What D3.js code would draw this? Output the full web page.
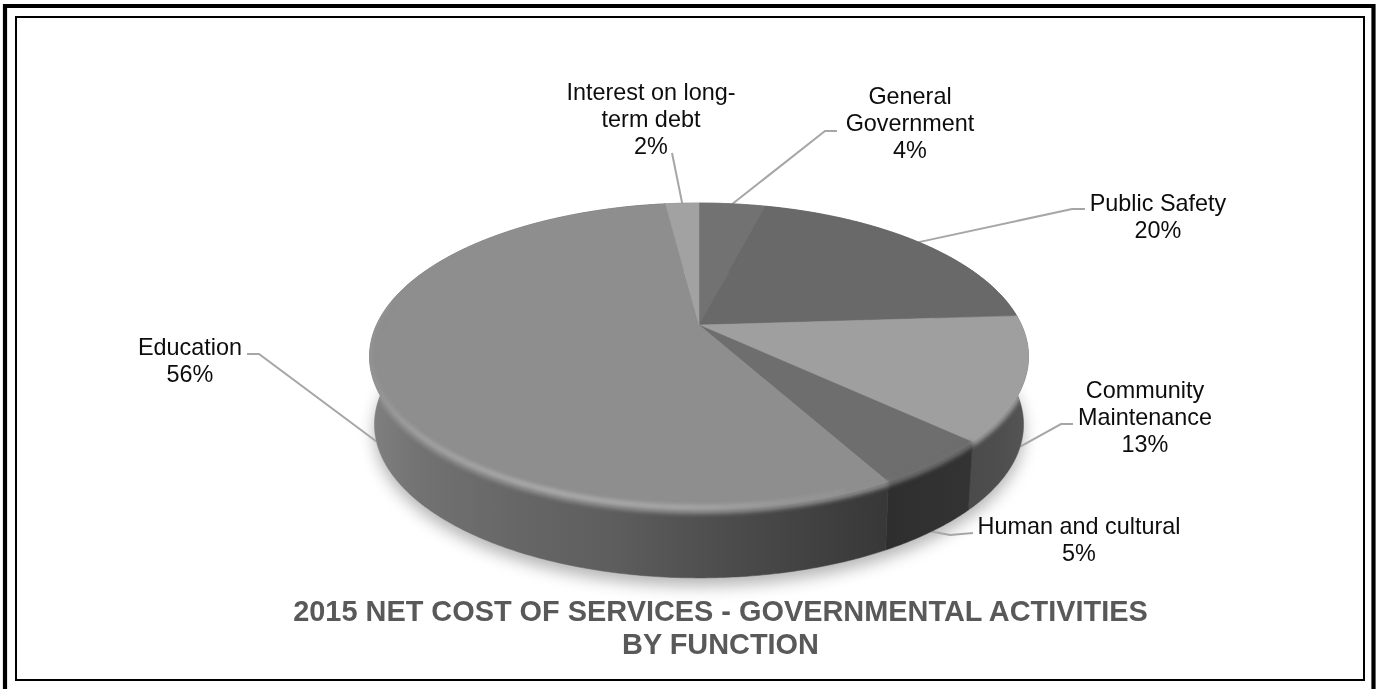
<!DOCTYPE html>
<html>
<head>
<meta charset="utf-8">
<script src="https://cdnjs.cloudflare.com/ajax/libs/d3/7.8.5/d3.min.js"></script>
<style>
html,body{margin:0;padding:0;background:#fff;overflow:hidden}
svg{display:block}
text{font-family:"Liberation Sans",Arial,sans-serif}
</style>
</head>
<body>
<svg id="chart" width="1376" height="689"></svg>
<script>
// Net cost of services by function, share of total (percent)
const categories = ["General Government","Public Safety","Community Maintenance","Human and cultural","Education","Interest on long-term debt"];
const shares = [4,20,13,5,56,2];
const labelLines = [
  ["General","Government","4%"],
  ["Public Safety","20%"],
  ["Community","Maintenance","13%"],
  ["Human and cultural","5%"],
  ["Education","56%"],
  ["Interest on long-","term debt","2%"]
];
const titleLines = ["2015 NET COST OF SERVICES - GOVERNMENTAL ACTIVITIES","BY FUNCTION"];
const topColors = ["#727272","#696969","#9f9f9f","#6e6e6e","#8e8e8e","#a2a2a2"];

// Label block centres and leader elbows, in page pixels
const labelPlacement = [
  {x:910, y:123,   elbow:[825,131], end:[837,131], onBase:false},
  {x:1158,y:216.5, elbow:[1072,209],end:[1085,209],onBase:false},
  {x:1145,y:417,   elbow:[1061,424],end:[1073,424],onBase:true},
  {x:1079,y:539,   elbow:[950,535], end:[973,533], onBase:true},
  {x:190, y:360.5, elbow:[259,354], end:[247,354], onBase:true},
  {x:651, y:119,   elbow:[672,153], end:[672,153], onBase:false}
];

const svg = d3.select("#chart");
const defs = svg.append("defs");

// Perspective view of the disc: a unit circle seen from above and in front
const apex = {x:699, y:325};
const persp = 0.205, radiusX = 322.5, radiusY = 147;
const depth = 68, baseShrink = 0.985;
function rim(a){
  const p = 1/(1+persp*Math.cos(a));
  return [apex.x + radiusX*Math.sin(a)*p, apex.y - radiusY*Math.cos(a)*p];
}
function baseRim(a){
  const [x,y] = rim(a);
  return [apex.x + (x-apex.x)*baseShrink, y + depth];
}
const samples = (a0,a1) => {
  const n = Math.max(2, Math.ceil((a1-a0)/0.01));
  return d3.range(n+1).map(i => a0 + (a1-a0)*i/n);
};
const line = d3.line();

const arcs = d3.pie().sort(null).value(d => d)(shares);

// Filters
defs.append("filter").attr("id","shadowBlur").attr("filterUnits","userSpaceOnUse")
  .attr("x",300).attr("y",200).attr("width",800).attr("height",440)
  .append("feGaussianBlur").attr("stdDeviation",8);
defs.append("filter").attr("id","edgeBlur").attr("filterUnits","userSpaceOnUse")
  .attr("x",300).attr("y",150).attr("width",800).attr("height",450)
  .append("feGaussianBlur").attr("stdDeviation",2.2);

// Horizontal shading of the side wall, one gradient per visible slice
function wallGradient(id, stops){
  const g = defs.append("linearGradient").attr("id",id).attr("gradientUnits","userSpaceOnUse")
    .attr("x1",360).attr("x2",1040).attr("y1",0).attr("y2",0);
  stops.forEach(([x,c]) => g.append("stop").attr("offset",(x-360)/680).attr("stop-color",c));
}
wallGradient("wall0",[[360,"#666"],[1040,"#666"]]);
wallGradient("wall1",[[360,"#555"],[1040,"#555"]]);
wallGradient("wall2",[[960,"#4a4a4a"],[1000,"#4e4e4e"],[1030,"#565656"]]);
wallGradient("wall3",[[885,"#2e2e2e"],[965,"#333333"]]);
wallGradient("wall4",[[370,"#808080"],[420,"#727272"],[520,"#666666"],[610,"#5e5e5e"],[700,"#505050"],[790,"#444444"],[885,"#383838"]]);
wallGradient("wall5",[[360,"#777"],[1040,"#777"]]);

// Highlight running along the near edge of the top face
const hl = defs.append("linearGradient").attr("id","edgeLight").attr("gradientUnits","userSpaceOnUse")
  .attr("x1",365).attr("x2",900).attr("y1",0).attr("y2",0);
[[0,0.1],[0.1,0.4],[0.35,0.65],[0.6,0.55],[0.8,0.2],[1,0]].forEach(([o,v]) =>
  hl.append("stop").attr("offset",o).attr("stop-color","#d0d0d0").attr("stop-opacity",v));

// Everything soft on the disc's edge stays inside its outline
const full = samples(0, 2*Math.PI);
const clip = defs.append("clipPath").attr("id","discOutline");
clip.append("path").attr("d", line(full.map(rim))+"Z");
arcs.forEach(d => {
  const s = samples(d.startAngle,d.endAngle);
  clip.append("path").attr("d", line(s.map(rim).concat(s.slice().reverse().map(baseRim)))+"Z");
});

// Soft shadow on the page below the disc
svg.append("path").attr("d", line(full.map(baseRim))+"Z")
  .attr("transform","translate(0,8)")
  .attr("fill","#777").attr("opacity",0.55).attr("filter","url(#shadowBlur)");

// Leader lines
const leaderLayer = svg.append("g").attr("fill","none").attr("stroke","#a6a6a6").attr("stroke-width",2);
arcs.forEach((d,i) => {
  const mid = (d.startAngle+d.endAngle)/2, place = labelPlacement[i];
  const anchor = place.onBase ? baseRim(mid) : rim(mid);
  leaderLayer.append("path").attr("d", line([anchor, place.elbow, place.end]));
});

// Side wall
svg.append("g").selectAll("path").data(arcs).join("path")
  .attr("d", d => {
    const s = samples(d.startAngle,d.endAngle);
    return line(s.map(rim).concat(s.slice().reverse().map(baseRim)))+"Z";
  })
  .attr("fill",(d,i) => `url(#wall${i})`)
  .attr("stroke",(d,i) => `url(#wall${i})`).attr("stroke-width",0.5);

// Top face
svg.append("g").selectAll("path").data(arcs).join("path")
  .attr("d", d => line([[apex.x,apex.y]].concat(samples(d.startAngle,d.endAngle).map(rim)))+"Z")
  .attr("fill",(d,i) => topColors[i])
  .attr("stroke",(d,i) => topColors[i]).attr("stroke-width",0.5);

// Rounded bevel: top colour bleeding softly onto the wall, with a light line on the near left
const frontArcs = arcs.filter(d => d.endAngle > Math.PI/2 && d.startAngle < 3*Math.PI/2);
const bevel = svg.append("g").attr("clip-path","url(#discOutline)")
  .append("g").attr("fill","none").attr("filter","url(#edgeBlur)");
frontArcs.forEach(d => {
  const a0 = Math.max(d.startAngle, 1.2), a1 = Math.min(d.endAngle, 4.85);
  bevel.append("path").attr("d", line(samples(a0,a1).map(rim)))
    .attr("stroke",topColors[d.index]).attr("stroke-width",6).attr("transform","translate(0,1)");
});
bevel.append("path")
  .attr("d", line(samples(Math.PI*0.88, 4.85).map(rim)))
  .attr("stroke","url(#edgeLight)").attr("stroke-width",3).attr("transform","translate(0,-3)");

// Slice labels
const labelGroup = svg.append("g").attr("fill","#0d0d0d").attr("font-size",23.4).attr("text-anchor","middle");
const lineHeight = 27;
labelLines.forEach((rows,i) => {
  const place = labelPlacement[i];
  const t = labelGroup.append("text").attr("class","slice-label");
  rows.forEach((r,j) => t.append("tspan").attr("x",place.x)
    .attr("y",place.y + lineHeight*(j-(rows.length-1)/2) + 8).text(r));
});

// Title
const titleGroup = svg.append("g").attr("fill","#595959").attr("font-size",28.9).attr("font-weight","bold").attr("text-anchor","middle");
titleLines.forEach((r,j) => titleGroup.append("text").attr("x",720.5).attr("y",621+j*32.5).text(r));

// Double page frame: heavy outer rule open at the foot, thin inner box
svg.append("path").attr("d","M5,689V6H1373.5V689").attr("fill","none").attr("stroke","#000").attr("stroke-width",4.2);
svg.append("rect").attr("x",16).attr("y",17).attr("width",1348).attr("height",663)
  .attr("fill","none").attr("stroke","#000").attr("stroke-width",2);
</script>
</body>
</html>
